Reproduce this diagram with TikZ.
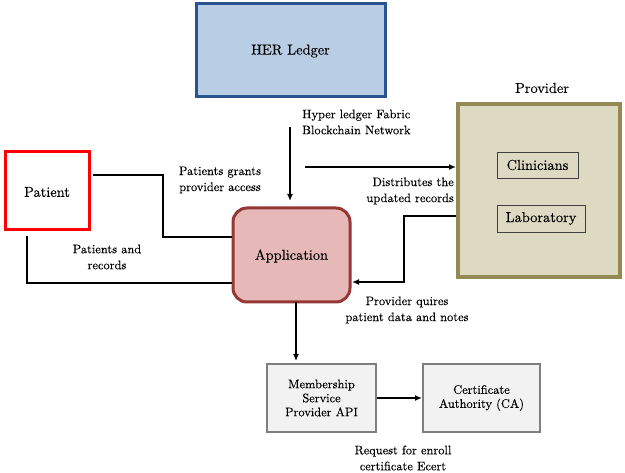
\documentclass[tikz,border=0pt]{standalone}
\usepackage{fontspec}
\setmainfont{lmroman10-regular.otf}[FakeBold=0.15]
\usetikzlibrary{arrows.meta}
\definecolor{ledgerfill}{HTML}{B9CDE5}
\definecolor{ledgerline}{HTML}{2A5490}
\definecolor{appfill}{HTML}{E6B9B8}
\definecolor{appline}{HTML}{953735}
\definecolor{provfill}{HTML}{DDD9C3}
\definecolor{provline}{HTML}{938953}
\definecolor{grayfill}{HTML}{F2F2F2}
\definecolor{grayline}{HTML}{7F7F7F}
\tikzset{
  big/.style={font=\rmfamily\fontsize{14.4}{17}\selectfont},
  small/.style={font=\rmfamily\fontsize{12.4}{16}\selectfont, align=center, inner sep=0pt},
  conn/.style={line width=1.6pt, black},
  arr/.style={conn, -{Latex[length=7pt,width=6pt]}},
  inbox/.style={draw=black!75, line width=0.8pt, fill=provfill, inner sep=0pt, big},
  graybox/.style={draw=grayline, line width=2pt, fill=grayfill, align=center, font=\rmfamily\fontsize{12.4}{16}\selectfont}
}
\begin{document}
\begin{tikzpicture}[x=1pt,y=-1pt]
\useasboundingbox (0,0) rectangle (625,473);
% boxes
\draw[ledgerline, fill=ledgerfill, line width=3pt] (196,4) rectangle (385,97);
\node[big] (her) at (290.5,51) {HER Ledger};
\draw[red, fill=white, line width=3pt] (5,152) rectangle (89,230);
\node[big] (pat) at (47,192) {Patient};
\draw[appline, fill=appfill, line width=3pt, rounded corners=14pt] (233,208) rectangle (350,302);
\node[big] (app) at (291.5,256) {Application};
\draw[provline, fill=provfill, line width=4pt] (458,104) rectangle (620,277);
\node[big] (provlbl) at (542,88) {Provider};
\node[inbox, minimum width=81pt, minimum height=26pt] (clin) at (537.5,165) {Clinicians};
\node[inbox, minimum width=88pt, minimum height=27pt] (lab) at (541,218.5) {Laboratory};
\node[graybox, minimum width=109pt, minimum height=68pt] (msp) at (321.5,398) {Membership\\[-2pt]Service\\[-2pt]Provider API};
\node[graybox, minimum width=117pt, minimum height=68pt] (ca) at (481.5,398) {Certificate\\[-2pt]Authority (CA)};
% coordinates
\coordinate (h1) at (290,127);
\coordinate (h2) at (290,201);
\coordinate (d1) at (305,167);
\coordinate (d2) at (456,167);
\coordinate (p1) at (456,216);
\coordinate (p2) at (352,282);
\coordinate (g1) at (93,175);
\coordinate (g2) at (232,237);
\coordinate (r1) at (27,236);
\coordinate (r2) at (232,283);
\coordinate (a1) at (296,302);
\coordinate (a2) at (296,361);
% connectors
\draw[arr] (h1) -- (h2);
\draw[arr] (d1) -- (d2);
\draw[arr] (p1) -- (404,216) -- (404,282) -- (p2);
\draw[conn] (g1) -- (163,175) -- (163,237) -- (g2);
\draw[conn] (r1) -- (27,283) -- (r2);
\draw[arr] (a1) -- (a2);
\draw[arr] (msp.east) -- (ca.west);
% labels
\node[small, align=left, anchor=west] (l1) at (302,122) {Hyper ledger Fabric\\Blockchain Network};
\node[small, align=right, anchor=east] (l2) at (454,191) {Distributes the\\updated records};
\node[small] (l3) at (407,310) {Provider quires\\patient data and notes};
\node[small] (l4) at (220,180) {Patients grants\\provider access};
\node[small] (l5) at (107,257) {Patients and\\records};
\node[small] (l6) at (403,458) {Request for enroll\\certificate Ecert};
\end{tikzpicture}
\end{document}
